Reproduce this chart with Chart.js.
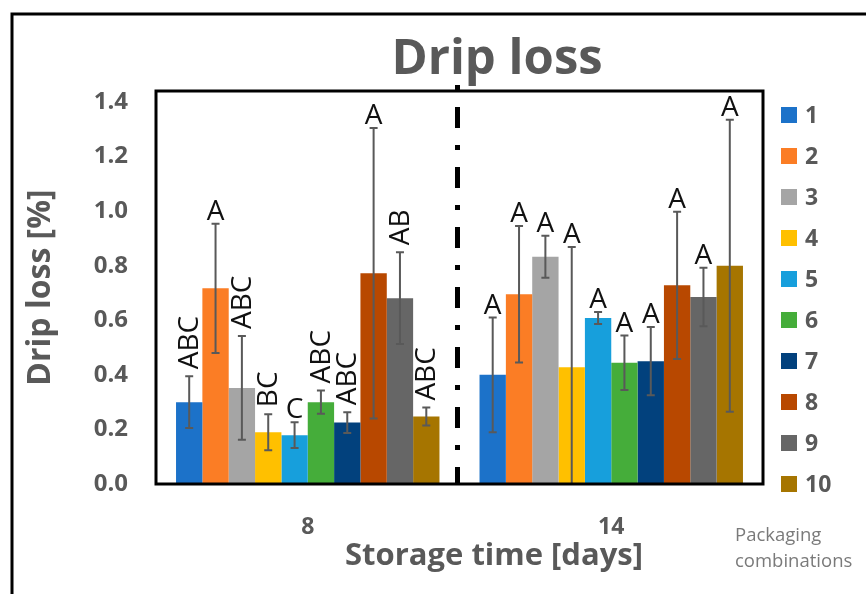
<!DOCTYPE html>
<html><head><meta charset="utf-8">
<script src="https://cdn.jsdelivr.net/npm/chart.js@4.4.1/dist/chart.umd.min.js"></script>
<style>html,body{margin:0;padding:0;background:#fff;} canvas{display:block;}</style>
</head><body>
<canvas id="c" width="866" height="594"></canvas>
<script>
// ---- data ----
const categories = ["8", "14"];
const seriesLabels = ["1", "2", "3", "4", "5", "6", "7", "8", "9", "10"];
const day8Mean = [0.30, 0.717, 0.352, 0.19, 0.179, 0.30, 0.225, 0.772, 0.681, 0.247];
const day8Err  = [0.095, 0.237, 0.19, 0.066, 0.047, 0.043, 0.038, 0.532, 0.168, 0.033];
const day8Letters = ["ABC", "A", "ABC", "BC", "C", "ABC", "ABC", "A", "AB", "ABC"];
const day14Mean = [0.40, 0.695, 0.833, 0.428, 0.608, 0.444, 0.45, 0.728, 0.685, 0.80];
const day14Err  = [0.21, 0.25, 0.077, 0.44, 0.022, 0.10, 0.125, 0.27, 0.107, 0.535];
const day14Letters = ["A", "A", "A", "A", "A", "A", "A", "A", "A", "A"];
const yTicks = [0.0, 0.2, 0.4, 0.6, 0.8, 1.0, 1.2, 1.4];
const titleText = "Drip loss";
const xTitleText = "Storage time [days]";
const yTitleText = "Drip loss [%]";
const legendNote = ["Packaging", "combinations"];

// ---- style ----
const colors = ["#1C72C9", "#FB7D25", "#A5A5A5", "#FFC000", "#179FDC", "#45AD3A", "#02417D", "#B84800", "#666666", "#A67500"];
const gray = "#595959";
const FONT = '"Open Sans", "Noto Sans", sans-serif';

const means = [day8Mean, day14Mean];
const errs = [day8Err, day14Err];
const letters = [day8Letters, day14Letters];

const datasets = seriesLabels.map((lab, i) => ({
  label: lab,
  data: categories.map((c, j) => means[j][i]),
  backgroundColor: colors[i],
  borderWidth: 0,
  categoryPercentage: 0.868,
  barPercentage: 1.0
}));

const decorPlugin = {
  id: 'decor',
  beforeDraw(chart) {
    const ctx = chart.ctx;
    ctx.save();
    ctx.fillStyle = '#fff';
    ctx.fillRect(0, 0, chart.width, chart.height);
    ctx.strokeStyle = '#000';
    ctx.lineWidth = 3;
    ctx.beginPath();
    ctx.moveTo(12, chart.height + 2);
    ctx.lineTo(12, 14);
    ctx.lineTo(chart.width + 2, 14);
    ctx.stroke();
    ctx.restore();
  },
  afterDatasetsDraw(chart) {
    const ctx = chart.ctx;
    const ca = chart.chartArea;
    const ys = chart.scales.y;
    const xs = chart.scales.x;
    // error bars
    ctx.save();
    ctx.beginPath();
    ctx.rect(ca.left, ca.top - 40, ca.right - ca.left, ca.bottom - ca.top + 40);
    ctx.clip();
    ctx.strokeStyle = gray;
    ctx.lineWidth = 2;
    chart.data.datasets.forEach((ds, i) => {
      const meta = chart.getDatasetMeta(i);
      meta.data.forEach((el, j) => {
        const m = means[j][i], e = errs[j][i];
        const yT = ys.getPixelForValue(m + e);
        const yB = ys.getPixelForValue(Math.max(m - e, -0.05));
        ctx.beginPath();
        ctx.moveTo(el.x, yT); ctx.lineTo(el.x, yB);
        ctx.moveTo(el.x - 4, yT); ctx.lineTo(el.x + 4, yT);
        ctx.moveTo(el.x - 4, yB); ctx.lineTo(el.x + 4, yB);
        ctx.stroke();
      });
    });
    ctx.restore();
    // frame
    ctx.save();
    ctx.strokeStyle = '#000';
    ctx.lineWidth = 3;
    ctx.strokeRect(ca.left, ca.top, ca.right - ca.left, ca.bottom - ca.top);
    // divider
    const xm = (xs.getPixelForValue(0) + xs.getPixelForValue(1)) / 2 - 2;
    ctx.lineWidth = 5;
    ctx.setLineDash([5, 17, 21, 17]);
    ctx.beginPath();
    ctx.moveTo(xm, ca.top - 6);
    ctx.lineTo(xm, ca.bottom);
    ctx.stroke();
    ctx.setLineDash([]);
    ctx.restore();
    // letters
    ctx.save();
    ctx.fillStyle = '#111';
    ctx.font = '28px ' + FONT;
    chart.data.datasets.forEach((ds, i) => {
      const meta = chart.getDatasetMeta(i);
      meta.data.forEach((el, j) => {
        const t = letters[j][i];
        const yT = ys.getPixelForValue(means[j][i] + errs[j][i]);
        if (t.length > 1) {
          ctx.save();
          ctx.translate(el.x + 1, yT - 7);
          ctx.rotate(-Math.PI / 2);
          ctx.textAlign = 'left';
          ctx.textBaseline = 'middle';
          ctx.fillText(t, 0, 0);
          ctx.restore();
        } else {
          ctx.textAlign = 'center';
          ctx.textBaseline = 'alphabetic';
          ctx.fillText(t, el.x, yT - 4);
        }
      });
    });
    ctx.restore();
  },
  afterDraw(chart) {
    const ctx = chart.ctx;
    const ca = chart.chartArea;
    ctx.save();
    // chart title
    ctx.fillStyle = gray;
    ctx.font = 'bold 49px ' + FONT;
    ctx.textAlign = 'center';
    ctx.textBaseline = 'alphabetic';
    ctx.fillText(titleText, 497, 74);
    // x axis title
    ctx.font = 'bold 31px ' + FONT;
    ctx.textBaseline = 'middle';
    ctx.fillText(xTitleText, 494, 556);
    // legend
    const x0 = ca.right + 18;
    const y0 = ca.top + 24;
    const step = 41;
    chart.data.datasets.forEach((ds, i) => {
      const yc = y0 + i * step;
      ctx.fillStyle = ds.backgroundColor;
      ctx.fillRect(x0, yc - 8, 16, 16);
      ctx.fillStyle = gray;
      ctx.font = 'bold 23px ' + FONT;
      ctx.textAlign = 'left';
      ctx.textBaseline = 'middle';
      ctx.fillText(ds.label, x0 + 24, yc + 1);
    });
    ctx.fillStyle = '#7A7A7A';
    ctx.font = '18.5px ' + FONT;
    ctx.textBaseline = 'middle';
    ctx.fillText(legendNote[0], 735, 536);
    ctx.fillText(legendNote[1], 735, 562);
    ctx.restore();
  }
};

new Chart(document.getElementById('c'), {
  type: 'bar',
  data: { labels: categories, datasets },
  options: {
    responsive: false,
    animation: false,
    devicePixelRatio: 1,
    layout: { padding: { left: 0, right: 103, top: 91, bottom: 0 } },
    plugins: {
      legend: { display: false },
      tooltip: { enabled: false },
      title: { display: false }
    },
    scales: {
      x: {
        grid: { display: false, drawTicks: false },
        border: { display: false },
        ticks: { color: gray, font: { family: FONT, size: 23, weight: 'bold' }, padding: 30 },
        afterFit(s) { s.height = 110; }
      },
      y: {
        min: 0, max: 1.44,
        grid: { display: false, drawTicks: false },
        border: { display: false },
        afterBuildTicks(s) { s.ticks = yTicks.map(v => ({ value: v })); },
        ticks: { color: gray, font: { family: FONT, size: 24, weight: 'bold' }, padding: 28,
                 callback: v => Number(v).toFixed(1) },
        title: { display: true, text: yTitleText, color: gray,
                 font: { family: FONT, size: 32, weight: 'bold', lineHeight: 1.2 },
                 padding: { top: 22, bottom: 0 } },
        afterFit(s) { s.width = 156; }
      }
    }
  },
  plugins: [decorPlugin]
});
</script>
</body></html>
